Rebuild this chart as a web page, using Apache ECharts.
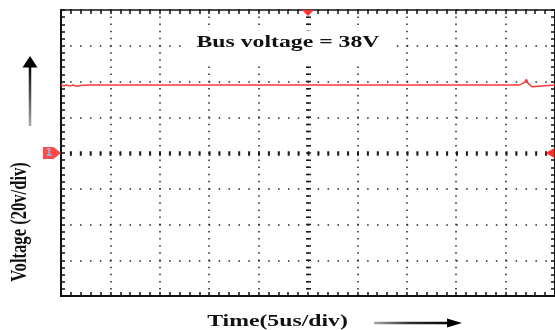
<!DOCTYPE html>
<html>
<head>
<meta charset="utf-8">
<script src="https://cdn.jsdelivr.net/npm/echarts@6/dist/echarts.min.js"></script>
<style>
  html, body { margin: 0; padding: 0; background: #fff; }
  #chart { width: 555px; height: 330px; }
</style>
</head>
<body>
<div id="chart"></div>
<script>
// Scope capture: bus voltage trace, channel 1 at 20 V/div, timebase 5 us/div
const busVoltage = 38;            // V, as annotated on screen
const timeUs = [0, 0.3, 0.6, 0.9, 1.2, 1.6, 2.0, 2.2, 2.4, 2.6, 2.9,
                22.4, 22.6, 22.8, 35.5, 35.7, 35.9, 41.6, 41.8, 42.0,
                46.4, 46.6, 46.9, 47.1, 47.3, 47.5, 47.7, 47.9, 50];
const voltage = [38, 37.6, 38, 37.4, 38, 37.3, 37.8, 36.9, 37.9, 37.2, 38,
                 38, 37.3, 38, 38, 37.2, 38, 38, 38.7, 38,
                 38, 37.5, 39.5, 41.2, 38.8, 38, 37.0, 38, 38];

// Screen scale: 10 horizontal x 8 vertical divisions
const timeMin = 0, timeMax = 50, timeDiv = 5;
const voltMin = -80, voltMax = 80, voltDiv = 20;
const triggerTime = 25;     // trigger position marker (top)
const groundLevel = 0;      // channel 1 reference marker (left)
const triggerLevel = 0;     // trigger level marker (right)

const chart = echarts.init(document.getElementById('chart'), null, { renderer: 'canvas' });

const tickStyle = { color: '#111', width: 1.5 };
const fontSerif = 'bold 16.6px "Liberation Serif", "Times New Roman", serif';

function edgeAxis(extra) {
  return Object.assign({
    type: 'value',
    axisLabel: { show: false },
    axisTick: { show: true, inside: true, length: 4, lineStyle: tickStyle },
    minorTick: { show: true, splitNumber: 5, length: 4, lineStyle: tickStyle },
    splitLine: { show: false }
  }, extra);
}

const option = {
  backgroundColor: '#fff',
  animation: false,
  grid: { left: 61, top: 10, width: 495, height: 286 },
  xAxis: [
    edgeAxis({
      position: 'bottom', min: timeMin, max: timeMax, interval: timeDiv,
      axisLine: { show: true, onZero: false, lineStyle: { color: '#111', width: 2 } },
      splitLine: { show: true, lineStyle: { color: '#222', width: 1.5, type: [1.5, 5.65], dashOffset: 0.75 } }
    }),
    edgeAxis({
      position: 'top', min: timeMin, max: timeMax, interval: timeDiv,
      axisLine: { show: true, onZero: false, lineStyle: { color: '#111', width: 1.5 } }
    })
  ],
  yAxis: [
    edgeAxis({
      position: 'left', min: voltMin, max: voltMax, interval: voltDiv,
      axisLine: { show: true, onZero: false, lineStyle: { color: '#111', width: 2 } },
      splitLine: { show: true, lineStyle: { color: '#222', width: 1.5, type: [1.5, 8.4], dashOffset: 0.75 } }
    }),
    edgeAxis({
      position: 'right', min: voltMin, max: voltMax, interval: voltDiv,
      axisLine: { show: true, onZero: false, lineStyle: { color: '#111', width: 2 } }
    })
  ],
  series: [{
    type: 'line',
    xAxisIndex: 0,
    yAxisIndex: 0,
    data: timeUs.map((t, i) => [t, voltage[i]]),
    showSymbol: false,
    lineStyle: { color: '#ff3b3b', width: 1.5 },
    z: 5,
    markLine: {
      silent: true,
      symbol: ['none', 'none'],
      label: { show: false },
      animation: false,
      data: [
        { yAxis: groundLevel, lineStyle: { color: '#1a1a1a', width: 4.5, type: [2, 7.9], dashOffset: 1 } },
        { xAxis: triggerTime, lineStyle: { color: '#1a1a1a', width: 5, type: [1.5, 5.65], dashOffset: 0.75 } }
      ]
    },
    markPoint: {
      silent: true,
      animation: false,
      data: [
        { coord: [triggerTime, voltMax], symbol: 'triangle', symbolRotate: 180,
          symbolSize: [12, 6], symbolOffset: [0, 3],
          itemStyle: { color: '#ff3030' }, label: { show: false } },
        { coord: [timeMin, groundLevel],
          symbol: 'path://M0,0 L10,0 L17,5.5 L10,11 L0,11 Z',
          symbolSize: [18, 12], symbolOffset: [-9, 0],
          itemStyle: { color: '#ff4a4a' },
          label: { show: true, formatter: '1', color: '#8fb6e6', fontSize: 10,
                   fontFamily: 'DejaVu Sans', fontWeight: 'bold', offset: [-3, 0] } },
        { coord: [timeMax, triggerLevel], symbol: 'triangle', symbolRotate: 90,
          symbolSize: [10, 9], symbolOffset: [-5, 0],
          itemStyle: { color: '#ff3030' }, label: { show: false } }
      ]
    }
  }],
  graphic: [
    // white backing box behind the annotation
    { type: 'rect', z: 15,
      shape: { x: 186, y: 31, width: 206, height: 31 },
      style: { fill: '#fff' } },
    { type: 'text', x: 288, y: 43, scaleX: 1.43, z: 20,
      style: { text: 'Bus voltage = ' + busVoltage + 'V', font: fontSerif, fill: '#111',
               align: 'center', verticalAlign: 'middle' } },
    { type: 'text', x: 277.5, y: 322, scaleX: 1.43, z: 20,
      style: { text: 'Time(5us/div)', font: fontSerif, fill: '#111',
               align: 'center', verticalAlign: 'middle' } },
    { type: 'text', x: 20, y: 222, rotation: Math.PI / 2, scaleY: 1.43, z: 20,
      style: { text: 'Voltage (20v/div)', font: fontSerif, fill: '#111',
               align: 'center', verticalAlign: 'middle' } },
    // time direction arrow
    { type: 'line', z: 20,
      shape: { x1: 374, y1: 323, x2: 450, y2: 323 },
      style: { lineWidth: 2.5,
               stroke: new echarts.graphic.LinearGradient(0, 0, 1, 0, [
                 { offset: 0, color: '#b0b0b0' }, { offset: 0.45, color: '#333' }, { offset: 1, color: '#000' }]) } },
    { type: 'polygon', z: 20,
      shape: { points: [[447, 318.5], [462, 323], [447, 327.5]] },
      style: { fill: '#000' } },
    // voltage direction arrow
    { type: 'line', z: 20,
      shape: { x1: 30, y1: 126, x2: 30, y2: 66 },
      style: { lineWidth: 2.5,
               stroke: new echarts.graphic.LinearGradient(0, 1, 0, 0, [
                 { offset: 0, color: '#b0b0b0' }, { offset: 0.5, color: '#555' }, { offset: 1, color: '#000' }]) } },
    { type: 'polygon', z: 20,
      shape: { points: [[22.5, 67.5], [30, 56], [37.5, 67.5]] },
      style: { fill: '#000' } }
  ]
};

chart.setOption(option);
</script>
</body>
</html>
